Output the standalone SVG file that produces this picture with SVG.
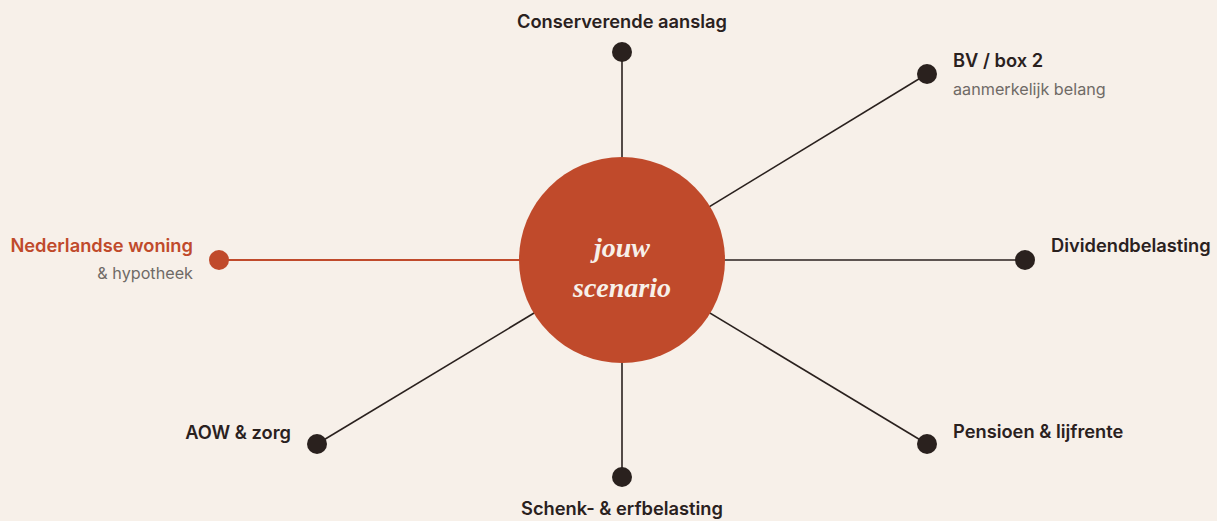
<svg xmlns="http://www.w3.org/2000/svg" width="1217" height="521" viewBox="0 0 1217 521">
<style>
.bg{fill:#f7f0e9}
.ln{stroke:#2a211e;stroke-width:1.6;fill:none}
.ln-hl{stroke:#c04a2b;stroke-width:2;fill:none}
.dot{fill:#2a211e}
.dot-hl{fill:#c04a2b}
.t{font-family:Inter,"Liberation Sans",sans-serif;font-weight:600;font-size:18.3px;fill:#2a211e}
.t-hl{fill:#c04a2b}
.s{font-family:Inter,"Liberation Sans",sans-serif;font-weight:400;font-size:16.2px;fill:#6f6a66}
.c{font-family:"Liberation Serif","DejaVu Serif",serif;font-style:italic;font-weight:bold;font-size:28px;fill:#f7f0e9;text-anchor:middle}
</style>
<rect class="bg" x="0" y="0" width="1217" height="521"/>
<g id="connectors">
<line class="ln" x1="622" y1="52" x2="622" y2="260"/>
<line class="ln" x1="927" y1="74" x2="622" y2="260"/>
<line class="ln" x1="1025" y1="260" x2="622" y2="260"/>
<line class="ln" x1="927" y1="444" x2="622" y2="260"/>
<line class="ln" x1="622" y1="477" x2="622" y2="260"/>
<line class="ln" x1="317" y1="444" x2="622" y2="260"/>
<line class="ln-hl" x1="219" y1="260" x2="622" y2="260"/>
</g>
<g id="center">
<circle cx="622" cy="260" r="103" fill="#c04a2b"/>
<text class="c" x="622" y="257">jouw</text>
<text class="c" x="622" y="297">scenario</text>
</g>
<g id="n-conserverende">
<circle class="dot" cx="622" cy="52" r="10"/>
<text class="t" x="622" y="28" text-anchor="middle">Conserverende aanslag</text>
</g>
<g id="n-bv">
<circle class="dot" cx="927" cy="74" r="10"/>
<text class="t" x="953" y="67">BV / box 2</text>
<text class="s" x="953" y="95">aanmerkelijk belang</text>
</g>
<g id="n-dividend">
<circle class="dot" cx="1025" cy="260" r="10"/>
<text class="t" x="1051" y="252">Dividendbelasting</text>
</g>
<g id="n-pensioen">
<circle class="dot" cx="927" cy="444" r="10"/>
<text class="t" x="953" y="438">Pensioen &amp; lijfrente</text>
</g>
<g id="n-schenk">
<circle class="dot" cx="622" cy="477" r="10"/>
<text class="t" x="622" y="515" text-anchor="middle">Schenk- &amp; erfbelasting</text>
</g>
<g id="n-aow">
<circle class="dot" cx="317" cy="444" r="10"/>
<text class="t" x="291" y="439" text-anchor="end">AOW &amp; zorg</text>
</g>
<g id="n-woning">
<circle class="dot-hl" cx="219" cy="260" r="10"/>
<text class="t t-hl" x="193" y="252" text-anchor="end">Nederlandse woning</text>
<text class="s" x="193" y="279" text-anchor="end">&amp; hypotheek</text>
</g>
</svg>
